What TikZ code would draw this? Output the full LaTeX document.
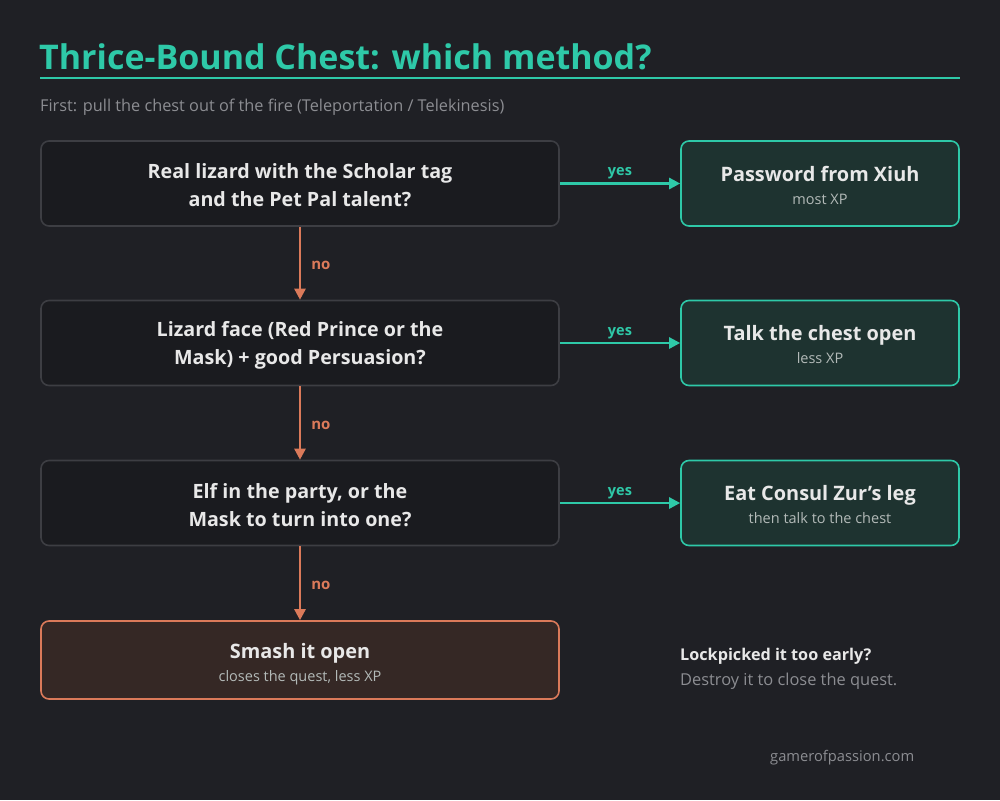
\documentclass[tikz,border=0pt]{standalone}
\usepackage{fontspec}
\setmainfont{Open Sans}
\usetikzlibrary{arrows.meta}
\definecolor{bg}{HTML}{1F2025}
\definecolor{teal}{HTML}{2EC9A8}
\definecolor{sub}{HTML}{8C8D92}
\definecolor{qfill}{HTML}{1A1B1F}
\definecolor{qline}{HTML}{3D3E43}
\definecolor{afill}{HTML}{1E3330}
\definecolor{ofill}{HTML}{352825}
\definecolor{orng}{HTML}{DB7A5A}
\definecolor{txt}{HTML}{E8E8E8}
\definecolor{asub}{HTML}{B3BAB8}
\tikzset{
  qbox/.style={draw=qline, fill=qfill, line width=1.6pt, rounded corners=8pt, minimum width=518pt, minimum height=85pt, align=center, text=txt, font=\bfseries\fontsize{19.7}{28}\selectfont, inner sep=0pt, text depth=0pt},
  abox/.style={draw=teal, fill=afill, line width=1.6pt, rounded corners=8pt, minimum width=278pt, minimum height=85pt, align=center, text=txt, inner sep=0pt, font=\fontsize{14.5}{23}\selectfont},
  obox/.style={draw=orng, fill=ofill, line width=1.6pt, rounded corners=8pt, minimum width=518pt, minimum height=78pt, align=center, text=txt, inner sep=0pt, font=\fontsize{14.5}{23}\selectfont},
  yesarr/.style={draw=teal, line width=2.5pt, -{Triangle[length=11pt,width=11pt]}},
  noarr/.style={draw=orng, line width=2.5pt, -{Triangle[length=11pt,width=11pt]}},
  yeslbl/.style={text=teal, font=\bfseries\fontsize{14.5}{16}\selectfont, inner sep=0pt},
  nolbl/.style={text=orng, font=\bfseries\fontsize{15}{16}\selectfont, inner sep=0pt},
}
\newcommand{\atitle}[2]{{\bfseries\fontsize{19.9}{23}\selectfont #1}\\{\color{asub}#2}}
\begin{document}
\begin{tikzpicture}[x=1pt,y=-1pt]
\fill[bg] (0,0) rectangle (1000,800);
\useasboundingbox (0,0) rectangle (1000,800);
\node[anchor=west, text=teal, font=\bfseries\fontsize{34}{40}\selectfont, inner sep=0pt] (title) at (39,57) {Thrice-Bound Chest: which method?};
\draw[teal, line width=2pt] (40,78) coordinate (ul1) -- (960,78) coordinate (ul2);
\node[anchor=west, text=sub, font=\fontsize{16.3}{19}\selectfont, inner sep=0pt] (subt) at (40,107.5) {First: pull the chest out of the fire (Teleportation / Telekinesis)};

\node[qbox] (q1) at (300,183.5) {\raisebox{0pt}{}};
\node[qbox] (q2) at (300,343) {};
\node[qbox] (q3) at (300,503) {};
\node[obox] (q4) at (300,660) {};
\node[text=txt, font=\bfseries\fontsize{19.7}{28}\selectfont, align=center, inner sep=0pt] (t1) at (300,185.5) {Real lizard with the Scholar tag\\and the Pet Pal talent?};
\node[text=txt, font=\bfseries\fontsize{19.7}{28}\selectfont, align=center, inner sep=0pt] (t2) at (300,345) {Lizard face (Red Prince or the\\Mask) + good Persuasion?};
\node[text=txt, font=\bfseries\fontsize{19.7}{28}\selectfont, align=center, inner sep=0pt] (t3) at (300,505) {Elf in the party, or the\\Mask to turn into one?};
\node[text=txt, font=\fontsize{14.5}{23}\selectfont, align=center, inner sep=0pt] (t4) at (300,664) {\atitle{Smash it open}{closes the quest, less XP}};

\node[abox] (a1) at (820,183.5) {};
\node[abox] (a2) at (820,343) {};
\node[abox] (a3) at (820,503) {};
\node[text=txt, font=\fontsize{14.5}{23}\selectfont, align=center, inner sep=0pt] (s1) at (820,185) {\atitle{Password from Xiuh}{most XP}};
\node[text=txt, font=\fontsize{14.5}{23}\selectfont, align=center, inner sep=0pt] (s2) at (820,344.5) {\atitle{Talk the chest open}{less XP}};
\node[text=txt, font=\fontsize{14.5}{23}\selectfont, align=center, inner sep=0pt] (s3) at (820,504.5) {\atitle{Eat Consul Zur's leg}{then talk to the chest}};

\draw[yesarr] (q1) -- node[yeslbl, above=3pt] {yes} (a1);
\draw[yesarr] (q2) -- node[yeslbl, above=3pt] {yes} (a2);
\draw[yesarr] (q3) -- node[yeslbl, above=3pt] {yes} (a3);
\draw[noarr] (q1) -- node[nolbl, right=10pt, yshift=-2pt] {no} (q2);
\draw[noarr] (q2) -- node[nolbl, right=10pt, yshift=-2pt] {no} (q3);
\draw[noarr] (q3) -- node[nolbl, right=10pt, yshift=-2pt] {no} (q4);

\node[anchor=west, text=txt, font=\bfseries\fontsize{16.2}{19}\selectfont, inner sep=0pt] (n1) at (680,656) {Lockpicked it too early?};
\node[anchor=west, text=sub, font=\fontsize{16.4}{19}\selectfont, inner sep=0pt] (n2) at (680,681) {Destroy it to close the quest.};
\node[anchor=west, text=sub, font=\fontsize{14.7}{17}\selectfont, inner sep=0pt] (site) at (770,758) {gamerofpassion.com};
\end{tikzpicture}
\end{document}
